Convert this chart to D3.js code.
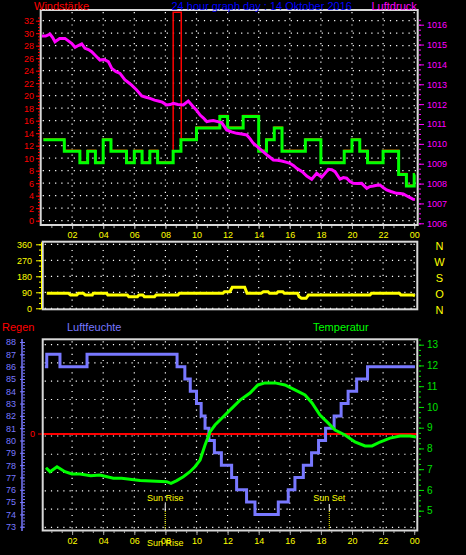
<!DOCTYPE html>
<html><head><meta charset="utf-8">
<script src="https://cdn.jsdelivr.net/npm/d3@7"></script>
<style>
body{margin:0;background:#000;}
svg{display:block;}
text{font-family:"Liberation Sans",Arial,sans-serif;}
</style>
</head><body>
<svg id="c" width="466" height="555"></svg>
<script>
// ---------------- DATA ----------------
const title = "24 hour graph day : 14 Oktober 2016";
const hourTickValues = [2,4,6,8,10,12,14,16,18,20,22,24];
const hourTickLabels = ["02","04","06","08","10","12","14","16","18","20","22","00"];

const windTicks = [0,2,4,6,8,10,12,14,16,18,20,22,24,26,28,30,32];
const pressureTicks = [1006,1007,1008,1009,1010,1011,1012,1013,1014,1015,1016];
const dirTicks = [0,90,180,270,360];
const dirTickLabels = ["0","90","180","270","360"];
const dirLetters = ["N","O","S","W","N"];
const humTicks = [73,74,75,76,77,78,79,80,81,82,83,84,85,86,87,88];
const tempTicks = [5,6,7,8,9,10,11,12,13];

const pressureHours = [0.05,0.3,0.58,0.75,0.9,1.2,1.54,1.97,2.19,2.4,2.62,2.83,3.05,3.26,3.5,3.79,4.05,4.33,4.55,4.8,5.08,5.4,5.6,5.83,6.15,6.48,6.75,7.01,7.3,7.54,7.8,8.08,8.3,8.51,8.8,9.15,9.47,9.79,10.0,10.23,10.45,10.66,10.85,11.08,11.35,11.62,11.94,12.25,12.59,12.9,13.23,13.45,13.65,14.0,14.3,14.6,14.94,15.2,15.48,15.75,16.01,16.25,16.44,16.8,17.09,17.41,17.73,18.05,18.25,18.48,18.7,18.91,19.23,19.45,19.66,19.87,20.08,20.35,20.62,20.95,21.15,21.37,21.6,21.8,22.0,22.23,22.5,22.87,23.1,23.3,23.62,23.94,24.05];
const pressureValues = [1015.43,1015.43,1015.53,1015.35,1015.14,1015.3,1015.31,1015.06,1014.86,1014.95,1015.03,1014.81,1014.75,1014.64,1014.45,1014.22,1014.25,1014.14,1013.8,1013.65,1013.55,1013.22,1013.1,1012.96,1012.71,1012.41,1012.35,1012.29,1012.2,1012.16,1012.1,1011.96,1011.98,1012.04,1011.98,1011.96,1012.16,1011.87,1011.7,1011.45,1011.3,1011.12,1011.15,1011.17,1011.12,1011.07,1010.7,1010.6,1010.53,1010.5,1010.45,1010.25,1010.03,1009.8,1009.6,1009.4,1009.19,1009.17,1009.14,1009.08,1009.02,1008.9,1008.77,1008.6,1008.38,1008.22,1008.52,1008.32,1008.5,1008.72,1008.7,1008.6,1008.22,1008.3,1008.27,1008.1,1008.01,1008.0,1008.01,1007.76,1007.85,1007.88,1007.92,1007.93,1007.8,1007.68,1007.6,1007.51,1007.5,1007.48,1007.34,1007.21,1007.2];

const windHours  = [0.15,1.5,2.5,3.0,3.5,4.0,4.5,5.5,6.0,6.5,7.0,7.5,8.5,9.0,10.0,11.5,12.0,13.0,14.0,14.5,15.0,15.5,17.0,18.0,19.5,20.0,20.5,21.0,22.0,23.0,23.5,24.0,24.05];
const windValues = [12.96,11.11,9.26,11.11,9.26,12.96,11.11,9.26,11.11,9.26,11.11,9.26,11.11,12.96,14.82,16.67,14.82,16.67,11.11,12.96,14.82,11.11,12.96,9.26,11.11,12.96,11.11,9.26,11.11,7.41,5.56,7.41,7.41];
const gustHours  = [0.15,1.5,2.5,3.0,3.5,4.0,4.5,5.5,6.0,6.5,7.0,7.5,8.5,9.02,10.0,11.5,12.0,13.0,14.0,14.5,15.0,15.5,17.0,18.0,19.5,20.0,20.5,21.0,22.0,23.0,23.5,24.0,24.05];
const gustValues = [12.96,11.11,9.26,11.11,9.26,12.96,11.11,9.26,11.11,9.26,11.11,9.26,33.2,12.96,14.82,16.67,14.82,16.67,11.11,12.96,14.82,11.11,12.96,9.26,11.11,12.96,11.11,9.26,11.11,7.41,5.56,7.41,7.41];

const dirHours  = [0.37,1.76,1.9,2.3,2.4,2.72,2.85,3.3,3.36,4.22,4.3,5.55,5.65,6.2,6.3,6.55,6.65,7.3,7.4,8.8,8.9,11.7,11.8,12.15,12.3,13.1,13.25,14.15,14.3,14.6,14.7,15.15,15.25,15.55,15.65,16.5,16.6,16.75,17.05,17.2,21.15,21.25,23.05,23.15,23.9,24.05];
const dirValues = [84,84,75,75,84,84,75,75,84,84,75,75,65,65,75,75,65,65,75,75,84,84,93,93,118,118,84,84,93,93,84,84,93,93,84,84,65,56,56,75,75,84,84,75,75,70];

const humHours  = [0.25,0.37,1.22,2.96,8.75,9.25,9.6,10.0,10.3,10.55,10.8,11.15,11.6,12.26,12.58,13.22,13.76,15.26,15.9,16.33,16.87,17.4,17.85,18.3,18.85,19.3,19.75,20.3,21.0,24.05];
const humValues = [86,87,86,87,86,85,84,83,82,81,80,79,78,77,76,75,74,75,76,77,78,79,80,81,82,83,84,85,86,86];

const tempHours  = [0.32,0.58,1.03,1.54,1.99,2.51,3.2,3.79,4.65,5.19,6.37,8.08,8.36,8.73,9.15,9.58,9.9,10.23,10.55,10.87,11.19,11.64,12.15,12.8,13.44,13.95,14.41,15.05,15.69,16.33,16.98,17.43,17.94,18.46,18.91,19.55,20.19,20.84,21.29,21.8,22.44,23.09,23.73,24.12];
const tempValues = [7.07,6.88,7.12,6.88,6.77,6.77,6.68,6.72,6.56,6.56,6.45,6.4,6.32,6.45,6.64,6.88,7.12,7.44,8.17,8.8,9.13,9.47,9.85,10.33,10.67,11.06,11.16,11.16,11.06,10.82,10.58,10.19,9.61,9.23,8.89,8.65,8.31,8.12,8.12,8.31,8.5,8.6,8.6,8.55];

const rainZero = 0;
const sunRise = 7.99, sunSet = 18.54;

// ---------------- COLORS / FONTS ----------------
const C = {frame:"#d8d8d8", red:"#ff0000", mag:"#ff00ff", green:"#00ff00", yellow:"#ffff00",
  blue:"#0000ff", hum:"#7878ff", temp:"#00e000", grid:"#ffffff"};
const F = 9;

const svg = d3.select("#c");
svg.append("rect").attr("width",466).attr("height",555).attr("fill","#000");

// ---------------- SCALES ----------------
const x = d3.scaleLinear([0,24.2],[41,417.3]);
const yWind = d3.scaleLinear([0,32],[220.7,20.7]);
const yPress = d3.scaleLinear([1006,1016],[223.3,24.7]);
const yDir = d3.scaleLinear([0,360],[308.3,244.3]);
const yHum = d3.scaleLinear([73,88],[526.7,342]);
const yTemp = d3.scaleLinear([5,13],[510.7,344.7]);
const yRain = d3.scaleLinear([0,1],[434,414]);
const yGrid = d3.scaleLinear([0,10],[527.3,344.7]);

const P1 = {l:40.7, r:417.7, t:10, b:225};
const P2 = {l:42.7, r:417.3, t:241.7, b:309.3};
const P3 = {l:42.7, r:417.3, t:339.3, b:530.5};

function styleAxis(g, col, tickCol, size){
  g.select(".domain").remove();
  g.selectAll("line").attr("stroke", tickCol||col);
  g.selectAll("text").attr("fill", col).attr("font-size", size||F);
}
function minor(g){ g.select(".domain").remove(); g.selectAll("text").remove(); }

function grid(P, rows, cols){
  const g = svg.append("g");
  rows.forEach(yy=>g.append("line").attr("x1",P.l+2).attr("x2",P.r-1).attr("y1",yy).attr("y2",yy)
    .attr("stroke",C.grid).attr("stroke-width",1.2).attr("stroke-dasharray","1.2,5"));
  cols.forEach(xx=>g.append("line").attr("x1",xx).attr("x2",xx).attr("y1",P.t+2).attr("y2",P.b-1)
    .attr("stroke",C.grid).attr("stroke-width",1.2).attr("stroke-dasharray","1.2,5"));
}
function frame(P){
  svg.append("rect").attr("x",P.l).attr("y",P.t).attr("width",P.r-P.l).attr("height",P.b-P.t)
    .attr("fill","none").attr("stroke",C.frame).attr("stroke-width",2);
}
function label(t,xx,yy,col,size,anchor){
  svg.append("text").attr("x",xx).attr("y",yy).attr("fill",col).attr("font-size",size)
    .attr("text-anchor",anchor||"start").attr("dominant-baseline","central").text(t);
}
const colsX = hourTickValues.map(h=>x(h));

// ---------------- PANEL 1 ----------------
grid(P1, windTicks.map(v=>yWind(v)), colsX);

const lineStep = (xs,ys,yS)=>d3.line().curve(d3.curveStepAfter).x((d,i)=>x(xs[i])).y((d,i)=>yS(ys[i]));
svg.append("path").attr("d", lineStep(gustHours,gustValues,yWind)(gustHours))
  .attr("fill","none").attr("stroke",C.red).attr("stroke-width",1.5).attr("transform","translate(0,-1)");
svg.append("path").attr("d", lineStep(windHours,windValues,yWind)(windHours))
  .attr("fill","none").attr("stroke",C.green).attr("stroke-width",3);
svg.append("path").attr("d", d3.line().x((d,i)=>x(pressureHours[i])).y((d,i)=>yPress(pressureValues[i]))(pressureHours))
  .attr("fill","none").attr("stroke",C.mag).attr("stroke-width",3).attr("stroke-linejoin","miter");
frame(P1);

svg.append("g").attr("transform","translate(40,0)")
  .call(d3.axisLeft(yWind).tickValues(d3.range(0,32.6,0.5)).tickSize(2)).call(minor)
  .selectAll("line").attr("stroke",C.red);
svg.append("g").attr("transform","translate(40,0)")
  .call(d3.axisLeft(yWind).tickValues(windTicks).tickSize(4).tickPadding(2))
  .call(g=>styleAxis(g,C.red));
svg.append("g").attr("transform","translate(419,0)")
  .call(d3.axisRight(yPress).tickValues(d3.range(1006,1016.3,0.25)).tickSize(2)).call(minor)
  .selectAll("line").attr("stroke",C.mag);
svg.append("g").attr("transform","translate(419,0)")
  .call(d3.axisRight(yPress).tickValues(pressureTicks).tickSize(5).tickPadding(3).tickFormat(d3.format("d")))
  .call(g=>styleAxis(g,C.mag));
svg.append("g").attr("transform","translate(0,226)")
  .call(d3.axisBottom(x).tickValues(d3.range(0.667,24.2,0.6667)).tickSize(2)).call(minor)
  .selectAll("line").attr("stroke","#aaa");
svg.append("g").attr("transform","translate(0,226)")
  .call(d3.axisBottom(x).tickValues(hourTickValues).tickSize(3).tickPadding(3).tickFormat((d,i)=>hourTickLabels[i]))
  .call(g=>styleAxis(g,C.yellow,"#aaa"));

label("Windstärke",34,6,C.red,11);
label(title,171.5,6,C.blue,11);
label("Luftdruck",371.5,6,C.mag,11);

// ---------------- PANEL 2 ----------------
grid(P2, dirTicks.map(v=>yDir(v)), colsX);
svg.append("path").attr("d", d3.line().x((d,i)=>x(dirHours[i])).y((d,i)=>yDir(dirValues[i]))(dirHours))
  .attr("fill","none").attr("stroke",C.yellow).attr("stroke-width",3);
frame(P2);
svg.append("line").attr("x1",41.5).attr("x2",41.5).attr("y1",yDir(360)-2).attr("y2",yDir(0)+1).attr("stroke",C.yellow);
svg.append("g").attr("transform","translate(41,0)")
  .call(d3.axisLeft(yDir).tickValues(d3.range(0,361,30)).tickSize(2)).call(minor)
  .selectAll("line").attr("stroke",C.yellow);
svg.append("g").attr("transform","translate(41,0)")
  .call(d3.axisLeft(yDir).tickValues(dirTicks).tickSize(5).tickPadding(4).tickFormat((d,i)=>dirTickLabels[i]))
  .call(g=>styleAxis(g,C.yellow));
dirTicks.forEach((v,i)=>label(dirLetters[i],439.5,yDir(v)+1.5,C.yellow,11,"middle"));

// ---------------- PANEL 3 ----------------
grid(P3, d3.range(0,11).map(i=>yGrid(i)), colsX);
svg.append("line").attr("x1",P3.l).attr("x2",P3.r).attr("y1",yRain(rainZero)).attr("y2",yRain(rainZero))
  .attr("stroke",C.red).attr("stroke-width",2.2);
svg.append("path").attr("d", lineStep(humHours,humValues,yHum)(humHours))
  .attr("fill","none").attr("stroke",C.hum).attr("stroke-width",3);
svg.append("path").attr("d", d3.line().x((d,i)=>x(tempHours[i])).y((d,i)=>yTemp(tempValues[i]))(tempHours))
  .attr("fill","none").attr("stroke",C.green).attr("stroke-width",3);

// sun rise / sun set markers
[[sunRise,"Sun Rise"],[sunSet,"Sun Set"]].forEach(([h,t])=>{
  const xx = x(h);
  svg.append("line").attr("x1",xx).attr("x2",xx).attr("y1",504).attr("y2",511).attr("stroke","#fff").attr("stroke-width",1);
  svg.append("line").attr("x1",xx).attr("x2",xx).attr("y1",511).attr("y2",530).attr("stroke",C.yellow)
    .attr("stroke-width",1).attr("stroke-dasharray","1,1");
  label(t,xx,497.5,C.yellow,F,"middle");
});
frame(P3);

svg.append("line").attr("x1",22).attr("x2",22).attr("y1",339).attr("y2",531).attr("stroke",C.hum).attr("stroke-width",1.5);
svg.append("g").attr("transform","translate(23,0)")
  .call(d3.axisLeft(yHum).tickValues(d3.range(73,88.1,0.25)).tickSize(-2)).call(minor)
  .selectAll("line").attr("stroke",C.hum);
svg.append("g").attr("transform","translate(24,0)")
  .call(d3.axisLeft(yHum).tickValues(humTicks).tickSize(4).tickPadding(4))
  .call(g=>styleAxis(g,C.hum));
svg.append("line").attr("x1",38).attr("x2",42).attr("y1",yRain(0)).attr("y2",yRain(0)).attr("stroke",C.red);
label("0",35,yRain(0),C.red,F,"end");

svg.append("g").attr("transform","translate(419,0)")
  .call(d3.axisRight(yTemp).tickValues(d3.range(4.75,13.3,0.25)).tickSize(2)).call(minor)
  .selectAll("line").attr("stroke",C.temp);
svg.append("g").attr("transform","translate(419,0)")
  .call(d3.axisRight(yTemp).tickValues(tempTicks).tickSize(5).tickPadding(3))
  .call(g=>styleAxis(g,C.temp,C.temp,F+1));

svg.append("g").attr("transform","translate(0,531)")
  .call(d3.axisBottom(x).tickValues(d3.range(0.667,24.2,0.6667)).tickSize(2)).call(minor)
  .selectAll("line").attr("stroke","#aaa");
svg.append("g").attr("transform","translate(0,531)")
  .call(d3.axisBottom(x).tickValues(hourTickValues).tickSize(4).tickPadding(3).tickFormat((d,i)=>hourTickLabels[i]))
  .call(g=>styleAxis(g,C.yellow,"#aaa"));
label("Sun Rise",x(sunRise),543,C.yellow,F,"middle");

label("Regen",2,327,C.red,11);
label("Luftfeuchte",67,327,C.hum,11);
label("Temperatur",313,327,C.green,11);
</script>
</body></html>
